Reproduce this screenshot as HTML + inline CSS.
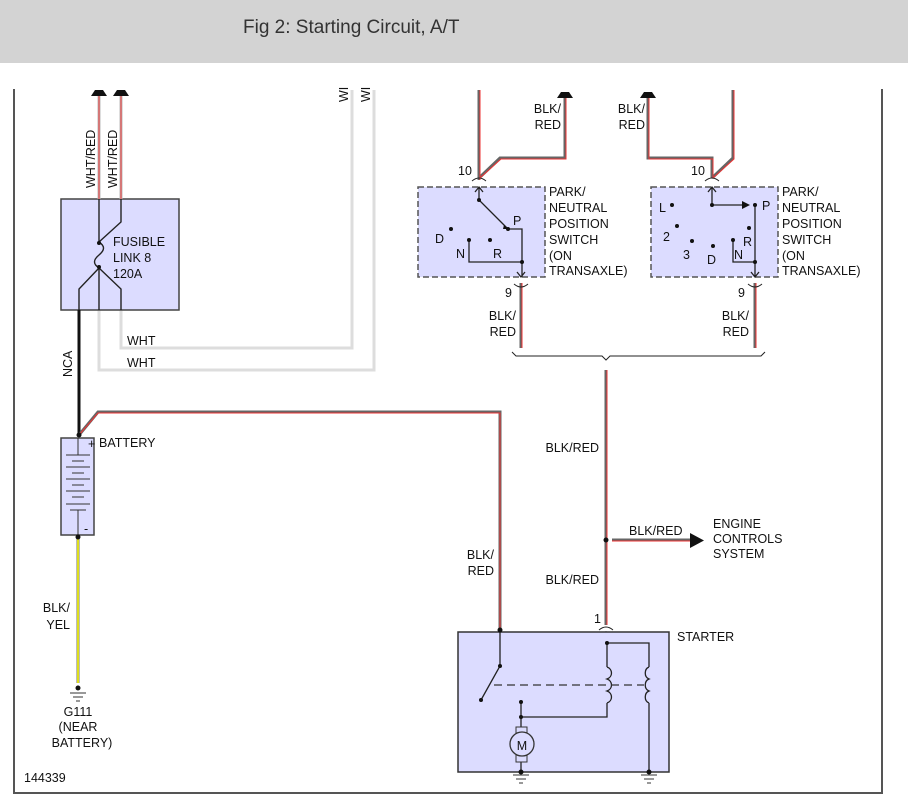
<!DOCTYPE html>
<html><head><meta charset="utf-8"><style>
html,body{margin:0;padding:0;width:908px;height:805px;overflow:hidden;background:#fff}
.h{position:absolute;left:0;top:0;width:908px;height:63px;background:#d3d3d3}
.h span{position:absolute;left:243px;top:17px;font:19px "Liberation Sans",sans-serif;color:#333}
svg{position:absolute;left:0;top:0}
text{font-family:"Liberation Sans",sans-serif;font-size:12.5px;fill:#111}
</style></head><body>
<div class="h"><span>Fig 2: Starting Circuit, A/T</span></div>
<svg width="908" height="805" viewBox="0 0 908 805">
<g fill="none">
<!-- frame -->
<path d="M14 89V793H882V89" stroke="#555" stroke-width="2"/>
<!-- WHT wires -->
<path d="M99 310V370H374V90 M121 310V348H352V90" stroke="#ddd" stroke-width="3"/>
<!-- fusible link box -->
<rect x="61" y="199" width="118" height="111" fill="#dcdcff" stroke="#444" stroke-width="1.5"/>
<path d="M99 93V199 M121 93V199" stroke="#bbb" stroke-width="3"/>
<path d="M99 93V199 M121 93V199" stroke="#e33" stroke-width="1"/>
<path d="M99 199V242 M99 268V310 M121 199V222L99 242 M99 242c6 4 6 8 0 13c-6 5 -6 9 0 13 M99 268L79 289V310 M99 268L121 289V310" stroke="#222" stroke-width="1.4"/>
<path d="M79 310V435" stroke="#111" stroke-width="3"/>
<!-- battery -->
<rect x="61" y="438" width="33" height="97" fill="#dcdcff" stroke="#444" stroke-width="1.5"/>
<path d="M78 438V455 M66 455H90 M72 461H84 M66 467H90 M72 473H84 M66 479H90 M72 485H84 M66 491H90 M72 497H84 M66 504H90 M70 510H86 M78 510V535" stroke="#333" stroke-width="1"/>
<!-- red wire battery to starter -->
<path d="M79 435L98 412H500V630" stroke="#666" stroke-width="3"/>
<path d="M79 435L98 413H500V630" stroke="#e33" stroke-width="1"/>
<path d="M78 537V683" stroke="#777" stroke-width="3"/>
<path d="M78 537V683" stroke="#ff0" stroke-width="1.5"/>
<!-- switch wires -->
<path d="M479 90V180 M479 178L500 158H565V92 M712 178V158H648V92 M712 178L733 158V90 M521 283V348 M755 283V348 M606 370V625 M612 540H690" stroke="#666" stroke-width="3"/>
<path d="M480 90V180 M480 178L501 159H566V92 M713 178V159H649V92 M713 178L734 159V90 M522 283V348 M756 283V348 M607 370V625 M612 541H690" stroke="#e33" stroke-width="1"/>
<path d="M512 352l4 4H602l4 4l4 -4H761l4 -4" stroke="#222" stroke-width="1"/>
<!-- switch boxes -->
<rect x="418" y="187" width="127" height="90" fill="#dcdcff" stroke="#555" stroke-width="1.5" stroke-dasharray="6,3"/>
<rect x="651" y="187" width="127" height="90" fill="#dcdcff" stroke="#555" stroke-width="1.5" stroke-dasharray="6,3"/>
<path d="M472 181q7-6 14 0 M514 284q7 6 14 0 M705 181q7-6 14 0 M748 284q7 6 14 0 M599 630q7-6 14 0" stroke="#222" stroke-width="1"/>
<path d="M479 187V200L508 229 M508 229H522V262H469V240 M522 262V277 M475 192l4-5l4 5 M517 272l4 5l4-5 M712 187V205H742 M755 205V262H733V240 M755 262V277 M708 192l4-5l4 5 M751 272l4 5l4-5 M606 632V643 M602 637l4-5l4 5" stroke="#222" stroke-width="1.3"/>
<!-- starter -->
<rect x="458" y="632" width="211" height="140" fill="#dcdcff" stroke="#333" stroke-width="1.5"/>
<path d="M500 630V666L481 700 M607 643V667 M607 643H649V667 M607 667c6 2 6 10 0 12c6 2 6 10 0 12c6 2 6 10 0 12 M649 667c-5 2 -5 10 0 12c-5 2 -5 10 0 12c-5 2 -5 10 0 12 M607 703V717H521V702 M521 717V727 M649 703V772 M521 758V772" stroke="#222" stroke-width="1.3"/>
<path d="M494 685H644" stroke="#333" stroke-width="1.2" stroke-dasharray="8,5"/>
<rect x="516" y="727" width="11" height="35" fill="#dcdcff" stroke="#333"/>
<circle cx="522" cy="744" r="12" fill="#dcdcff" stroke="#333" stroke-width="1.3"/>
<path d="M513 775H529 M516 779H526 M519 783H523 M641 775H657 M644 779H654 M647 783H651 M70 693H86 M73 697H83 M76 701H80" stroke="#333" stroke-width="1"/>
</g>
<g fill="#111">
<path d="M91 96l4-6h8l4 6z M113 96l4-6h8l4 6z M557 98l4-6h8l4 6z M640 98l4-6h8l4 6z M690 533v15l14-7.5z"/>
<circle cx="79" cy="435" r="2.5"/><circle cx="78" cy="537" r="2.5"/><circle cx="78" cy="688" r="2.5"/>
<circle cx="500" cy="630" r="2.5"/><circle cx="606" cy="540" r="2.5"/>
<circle cx="99" cy="243" r="2"/><circle cx="99" cy="267" r="2"/>
<circle cx="479" cy="200" r="2"/><circle cx="508" cy="229" r="2"/><circle cx="451" cy="229" r="2"/><circle cx="469" cy="240" r="2"/><circle cx="490" cy="240" r="2"/><circle cx="522" cy="262" r="2"/>
<circle cx="712" cy="205" r="2"/><circle cx="755" cy="205" r="2"/><circle cx="672" cy="205" r="2"/><circle cx="677" cy="226" r="2"/><circle cx="692" cy="241" r="2"/><circle cx="713" cy="246" r="2"/><circle cx="749" cy="228" r="2"/><circle cx="733" cy="240" r="2"/><circle cx="755" cy="262" r="2"/>
<circle cx="500" cy="666" r="2"/><circle cx="481" cy="700" r="2"/><circle cx="607" cy="643" r="2"/><circle cx="521" cy="702" r="2"/><circle cx="521" cy="717" r="2"/><circle cx="521" cy="772" r="2.5"/><circle cx="649" cy="772" r="2.5"/>
</g>
<path d="M742 201v8l8-4z" fill="#111"/>
<path d="M504 225l4 4l-5 0z" fill="#111"/>
<text transform="translate(95,188) rotate(-90)">WHT/RED</text>
<text transform="translate(117,188) rotate(-90)">WHT/RED</text>
<text transform="translate(348,102) rotate(-90)" font-size="11">WI</text>
<text transform="translate(370,102) rotate(-90)" font-size="11">WI</text>
<text transform="translate(72,377) rotate(-90)">NCA</text>
<text x="113" y="246">FUSIBLE</text><text x="113" y="262">LINK 8</text><text x="113" y="278">120A</text>
<text x="127" y="345">WHT</text><text x="127" y="367">WHT</text>
<text x="99" y="447">BATTERY</text>
<text x="88" y="448" font-size="11">+</text><text x="84" y="533" font-size="11">-</text>
<text x="70" y="612" text-anchor="end">BLK/</text><text x="70" y="629" text-anchor="end">YEL</text>
<text x="78" y="716" text-anchor="middle">G111</text><text x="78" y="731" text-anchor="middle">(NEAR</text><text x="82" y="747" text-anchor="middle">BATTERY)</text>
<text x="24" y="782">144339</text>
<text x="561" y="113" text-anchor="end">BLK/</text><text x="561" y="129" text-anchor="end">RED</text>
<text x="645" y="113" text-anchor="end">BLK/</text><text x="645" y="129" text-anchor="end">RED</text>
<text x="458" y="175">10</text><text x="691" y="175">10</text>
<text x="505" y="297">9</text><text x="738" y="297">9</text>
<text x="549" y="196">PARK/</text><text x="549" y="212">NEUTRAL</text><text x="549" y="228">POSITION</text><text x="549" y="244">SWITCH</text><text x="549" y="260">(ON</text><text x="549" y="275">TRANSAXLE)</text>
<text x="782" y="196">PARK/</text><text x="782" y="212">NEUTRAL</text><text x="782" y="228">POSITION</text><text x="782" y="244">SWITCH</text><text x="782" y="260">(ON</text><text x="782" y="275">TRANSAXLE)</text>
<text x="435" y="243">D</text><text x="456" y="258">N</text><text x="493" y="258">R</text><text x="513" y="225">P</text>
<text x="659" y="212">L</text><text x="663" y="241">2</text><text x="683" y="259">3</text><text x="707" y="264">D</text><text x="734" y="259">N</text><text x="743" y="246">R</text><text x="762" y="210">P</text>
<text x="516" y="320" text-anchor="end">BLK/</text><text x="516" y="336" text-anchor="end">RED</text>
<text x="749" y="320" text-anchor="end">BLK/</text><text x="749" y="336" text-anchor="end">RED</text>
<text x="599" y="452" text-anchor="end">BLK/RED</text><text x="599" y="584" text-anchor="end">BLK/RED</text>
<text x="629" y="535">BLK/RED</text>
<text x="713" y="528">ENGINE</text><text x="713" y="543">CONTROLS</text><text x="713" y="558">SYSTEM</text>
<text x="494" y="559" text-anchor="end">BLK/</text><text x="494" y="575" text-anchor="end">RED</text>
<text x="594" y="623">1</text>
<text x="677" y="641">STARTER</text>
<text x="522" y="750" text-anchor="middle" font-size="15">M</text>
</svg>
</body></html>
